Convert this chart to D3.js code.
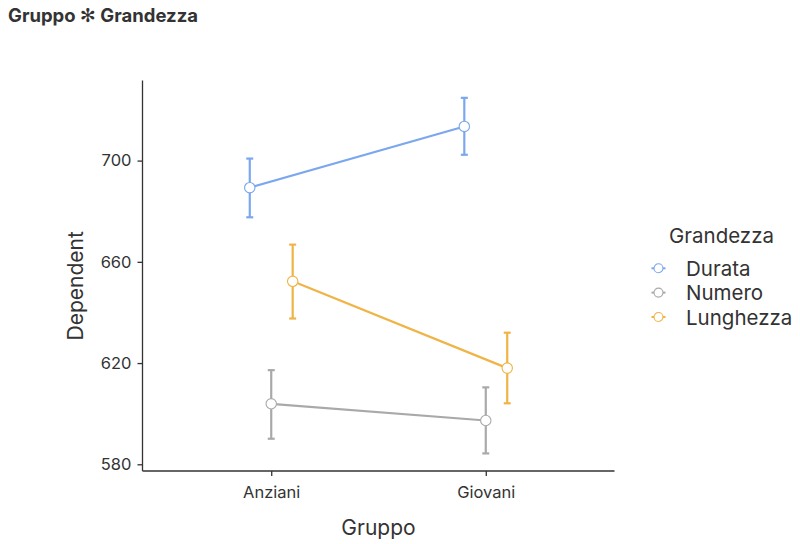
<!DOCTYPE html>
<html>
<head>
<meta charset="utf-8">
<script src="https://cdn.jsdelivr.net/npm/d3@7"></script>
<style>
    body { margin: 0; background: #ffffff; }
    text { font-family: Inter, "Liberation Sans", Arial, sans-serif; }
</style>
</head>
<body>
<div id="chart"></div>
<script>
// data
const groups = ["Anziani", "Giovani"];
const sizes = ["Durata", "Numero", "Lunghezza"];
const colors = ["#7ba7ee", "#a9a9a9", "#f0b446"];
const means = {
    Durata: [689.3, 713.5],
    Numero: [603.9, 597.3],
    Lunghezza: [652.3, 618.0]
};
const lower = {
    Durata: [677.6, 702.3],
    Numero: [590.1, 584.3],
    Lunghezza: [637.6, 604.1]
};
const upper = {
    Durata: [700.8, 724.8],
    Numero: [617.2, 610.4],
    Lunghezza: [666.8, 632.0]
};
const yTicks = [580, 620, 660, 700];

const W = 800, H = 544;
const LEFT = 142.5, RIGHT = 614.5, TOP = 80.5, BOTTOM = 471;
const FONT = "Inter, 'Liberation Sans', Arial, sans-serif";

const svg = d3.select("#chart").append("svg")
    .attr("width", W)
    .attr("height", H);

// title
const title = svg.append("text")
    .attr("x", 8)
    .attr("y", 21.5)
    .attr("font-size", "18.5px")
    .attr("font-weight", "bold")
    .attr("fill", "#333333");
title.append("tspan").text("Gruppo ");
title.append("tspan")
    .attr("font-family", "DejaVu Sans")
    .attr("font-weight", "normal")
    .attr("font-size", "19px")
    .text("\u273B");
title.append("tspan").text(" Grandezza");

// scales
const x = d3.scalePoint().domain(groups).range([LEFT, RIGHT]).padding(0.6);
const dodge = d3.scalePoint().domain(sizes).range([-0.1, 0.1]).padding(0);
const y = d3.scaleLinear().domain([577.35, 731.65]).range([BOTTOM, TOP]);
const color = d3.scaleOrdinal().domain(sizes).range(colors);

const px = (g, s) => x(g) + dodge(s) * x.step();

// axes
const xAxis = svg.append("g")
    .attr("transform", `translate(0, ${BOTTOM})`)
    .call(d3.axisBottom(x).tickSize(5).tickPadding(10).tickSizeOuter(0));
const yAxis = svg.append("g")
    .attr("transform", `translate(${LEFT}, 0)`)
    .call(d3.axisLeft(y).tickValues(yTicks).tickSize(5).tickPadding(6).tickSizeOuter(0));

[xAxis, yAxis].forEach(a => {
    a.select(".domain").attr("stroke", "#333333").attr("stroke-width", 1.3);
    a.selectAll(".tick line").attr("stroke", "#333333").attr("stroke-width", 1.3);
    a.selectAll(".tick text")
        .attr("font-size", "16.5px")
        .attr("fill", "#333333")
        .style("font-family", FONT);
});
xAxis.select(".domain").attr("d", `M${LEFT},0H${RIGHT}`);
yAxis.select(".domain").attr("d", `M0,${TOP}V${BOTTOM}`);

// axis titles
svg.append("text")
    .attr("x", (LEFT + RIGHT) / 2)
    .attr("y", 535)
    .attr("text-anchor", "middle")
    .attr("font-size", "21px")
    .attr("fill", "#333333")
    .text("Gruppo");
svg.append("text")
    .attr("transform", `translate(83, ${(TOP + BOTTOM) / 2 + 10}) rotate(-90)`)
    .attr("text-anchor", "middle")
    .attr("font-size", "21px")
    .attr("fill", "#333333")
    .text("Dependent");

// series
const plot = svg.append("g");
sizes.forEach(s => {
    const c = color(s);
    const pts = groups.map((g, i) => ({ g: g, m: means[s][i], lo: lower[s][i], hi: upper[s][i] }));

    plot.append("path")
        .attr("fill", "none")
        .attr("stroke", c)
        .attr("stroke-width", 2.2)
        .attr("d", d3.line().x(d => px(d.g, s)).y(d => y(d.m))(pts));

    pts.forEach(d => {
        const cx = px(d.g, s);
        plot.append("line")
            .attr("x1", cx).attr("x2", cx)
            .attr("y1", y(d.lo)).attr("y2", y(d.hi))
            .attr("stroke", c).attr("stroke-width", 2.2);
        [d.lo, d.hi].forEach(v => {
            plot.append("line")
                .attr("x1", cx - 3.5).attr("x2", cx + 3.5)
                .attr("y1", y(v)).attr("y2", y(v))
                .attr("stroke", c).attr("stroke-width", 2.2);
        });
    });

    plot.selectAll(null)
        .data(pts)
        .join("circle")
        .attr("cx", d => px(d.g, s))
        .attr("cy", d => y(d.m))
        .attr("r", 5.2)
        .attr("fill", "#ffffff")
        .attr("stroke", c)
        .attr("stroke-width", 1.1);
});

// legend
const legend = svg.append("g");
legend.append("text")
    .attr("x", 669)
    .attr("y", 242.5)
    .attr("font-size", "20.5px")
    .attr("fill", "#333333")
    .text("Grandezza");
const rowY = [268.3, 292.6, 317];
sizes.forEach((s, i) => {
    const row = legend.append("g").attr("transform", `translate(0, ${rowY[i]})`);
    row.append("line")
        .attr("x1", 651.5).attr("x2", 665.5)
        .attr("stroke", color(s)).attr("stroke-width", 2);
    row.append("circle")
        .attr("cx", 658.5).attr("r", 4.5)
        .attr("fill", "#ffffff")
        .attr("stroke", color(s)).attr("stroke-width", 1.1);
    row.append("text")
        .attr("x", 686)
        .attr("y", 7.5)
        .attr("font-size", "20.5px")
        .attr("fill", "#333333")
        .text(s);
});
</script>
</body>
</html>
